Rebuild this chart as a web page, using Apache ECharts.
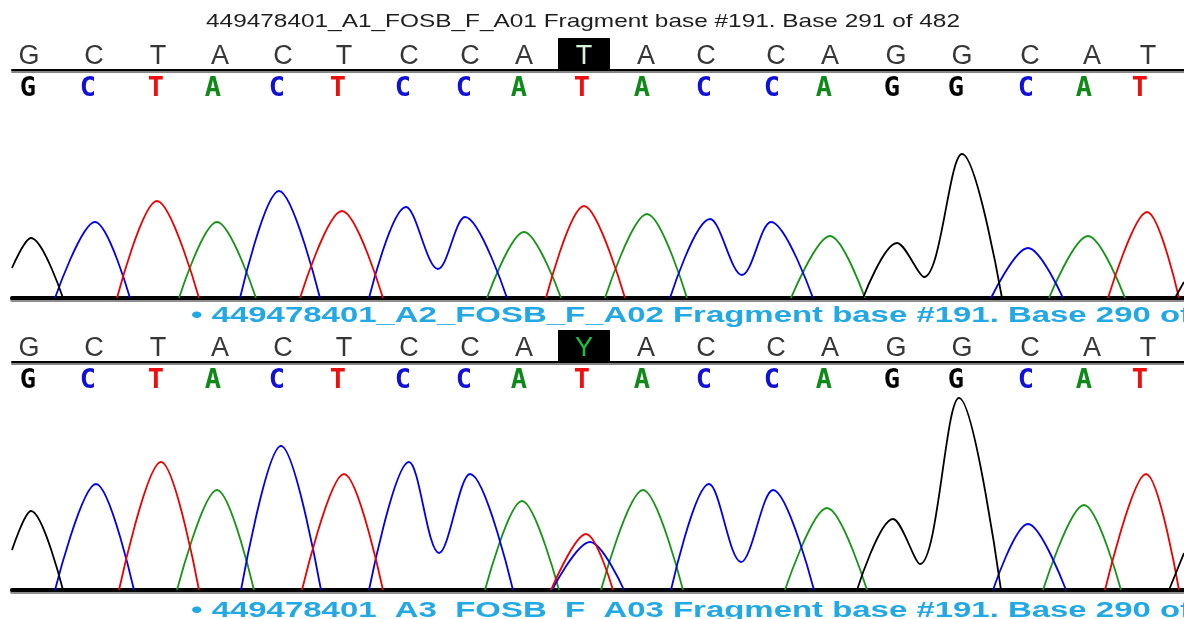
<!DOCTYPE html>
<html><head><meta charset="utf-8">
<script src="https://cdn.jsdelivr.net/npm/echarts@6/dist/echarts.min.js"></script>
<style>html,body{margin:0;padding:0;background:#fff}#c{width:1184px;height:619px}</style>
</head><body><div id="c"></div>
<script>
// ---------------- data ----------------
const titleA1 = '449478401_A1_FOSB_F_A01 Fragment base #191. Base 291 of 482';
const titleA2 = '\u2022 449478401_A2_FOSB_F_A02 Fragment base #191. Base 290 of';
const titleA3 = '\u2022 449478401_A3_FOSB_F_A03 Fragment base #191. Base 290 of';

const calledBases = ['G','C','T','A','C','T','C','C','A','T','A','C','C','A','G','G','C','A','T'];
const topBases1   = ['G','C','T','A','C','T','C','C','A','T','A','C','C','A','G','G','C','A','T'];
const topBases2   = ['G','C','T','A','C','T','C','C','A','Y','A','C','C','A','G','G','C','A','T'];
const topPos  = [29,94,158,220,283,344,409,470,524,584,646,706,776,830,896,962,1030,1092,1148];
const callPos = [28,88,156,213,277,338,403,464,519,582,642,704,772,824,892,956,1026,1084,1140];
const highlightIndex = 9;

// trace peaks: [scan position, signal]
const panel1G = [[[12,30],[31,60],[63,0]], [[863,0],[897,55],[924,21],[962,144],[1002,0]], [[1175,0],[1184,16]]];
const panel1C = [[[55,0],[95,76],[130,0]], [[240,0],[279,107],[320,0]], [[369,0],[406,91],[438,29],[465,81],[507,0]], [[670,0],[710,79],[742,23],[771,76],[813,0]], [[991,0],[1028,50],[1063,0]]];
const panel1T = [[[117,0],[157,97],[199,0]], [[300,0],[342,87],[383,0]], [[546,0],[584,92],[625,0]], [[1108,0],[1147,86],[1179,0]]];
const panel1A = [[[179,0],[217,76],[256,0]], [[487,0],[524,66],[561,0]], [[605,0],[647,84],[687,0]], [[791,0],[830,62],[865,0]], [[1049,0],[1088,62],[1125,0]]];

const panel2G = [[[12,40],[31,79],[63,0]], [[857,0],[893,71],[920,26],[959,192],[1001,0]], [[1169,0],[1184,37]]];
const panel2C = [[[55,0],[96,106],[134,0]], [[241,0],[281,144],[321,0]], [[369,0],[409,128],[439,37],[470,116],[513,0]], [[552,0],[590,48],[624,0]], [[671,0],[709,106],[741,28],[773,100],[814,0]], [[993,0],[1028,66],[1066,0]]];
const panel2T = [[[551,0],[586,56],[613,0]], [[119,0],[161,128],[199,0]], [[302,0],[344,116],[383,0]], [[1105,0],[1146,116],[1179,0]]];
const panel2A = [[[177,0],[217,100],[254,0]], [[485,0],[522,89],[559,0]], [[601,0],[643,100],[683,0]], [[785,0],[827,82],[867,0]], [[1043,0],[1084,85],[1121,0]]];

// ---------------- styles ----------------
const traceColors = {G:'#000000', C:'#0000ee', T:'#ee0000', A:'#169416'};
const callColors  = {G:'#000000', C:'#1010d8', T:'#ee1010', A:'#0f8a18'};
const XMIN = 12, XMAX = 1184;

function joinPeaks(peaks){
  const out = [];
  peaks.slice().sort((a,b)=>a[0][0]-b[0][0]).forEach((pk,i)=>{ if(i) out.push(null); pk.forEach(p=>out.push(p)); });
  return out;
}
function fitScale(text, font, width){
  const ctx = document.createElement('canvas').getContext('2d');
  ctx.font = font;
  return width / ctx.measureText(text).width;
}

const grids = [], xAxes = [], yAxes = [], series = [];
function addGrid(top, height, axisLineStyle){
  const idx = grids.length;
  grids.push({left:12, right:0, top:top, height:height, containLabel:false});
  xAxes.push({type:'value', gridIndex:idx, min:XMIN, max:XMAX,
    axisLine: axisLineStyle ? {show:true, onZero:false, lineStyle:axisLineStyle} : {show:false},
    axisTick:{show:false}, axisLabel:{show:false}, splitLine:{show:false}});
  yAxes.push({type:'value', gridIndex:idx, min:0, max: height, show:false, splitLine:{show:false}});
  return idx;
}
const lineStyle2 = {color:'#000', width:2, shadowColor:'rgba(120,120,120,0.9)', shadowOffsetY:2, shadowBlur:0};
const lineStyle4 = {color:'#000', width:4, shadowColor:'rgba(130,130,130,0.9)', shadowOffsetY:2, shadowBlur:0};

function addPanel(offset, topBases, peaks){
  const gTop  = addGrid(38+offset, 32, lineStyle2);
  const gCall = addGrid(74+offset, 28, null);
  const gTr   = addGrid(98+offset, 200, lineStyle4);
  // top row letters
  series.push({type:'scatter', xAxisIndex:gTop, yAxisIndex:gTop, symbolSize:1, silent:true,
    itemStyle:{color:'transparent', opacity:1},
    label:{show:true, position:'inside', fontFamily:'Liberation Sans', fontSize:27, color:'#363636',
      formatter:p=>p.data.base},
    data: topBases.map((b,i)=>({value:[topPos[i],13], base:b})).filter((d,i)=>i!==highlightIndex)});
  // highlighted base
  const hb = topBases[highlightIndex];
  series.push({type:'scatter', xAxisIndex:gTop, yAxisIndex:gTop, symbol:'rect', symbolSize:[52,32], silent:true, z:5,
    itemStyle:{color:'#000', opacity:1},
    label:{show:true, position:'inside', fontFamily:'Liberation Sans', fontSize:27, offset:[0,3],
      color: hb==='Y' ? '#18c040' : '#d6f5d6', formatter:p=>p.data.base},
    data:[{value:[topPos[highlightIndex],16], base:hb}]});
  // called bases
  series.push({type:'scatter', xAxisIndex:gCall, yAxisIndex:gCall, symbolSize:1, silent:true,
    itemStyle:{color:'transparent', opacity:1},
    label:{show:true, position:'inside', fontFamily:'DejaVu Sans Mono', fontWeight:'bold', fontSize:27,
      formatter:p=>p.data.base},
    data: calledBases.map((b,i)=>({value:[callPos[i],13], base:b, label:{color:callColors[b]}}))});
  // traces
  ['A','C','T','G'].forEach(ch=>{
    series.push({type:'line', xAxisIndex:gTr, yAxisIndex:gTr, name:ch, smooth:0.35, symbol:'none', silent:true,
      connectNulls:false, clip:true,
      lineStyle:{color:traceColors[ch], width:1.8}, data: joinPeaks(peaks[ch])});
  });
}
addPanel(0,   topBases1, {G:panel1G, C:panel1C, T:panel1T, A:panel1A});
addPanel(292, topBases2, {G:panel2G, C:panel2C, T:panel2T, A:panel2A});

const f1 = '19px "Liberation Sans"';
const f2 = 'bold 22px "Liberation Sans"';
const s1 = fitScale(titleA1, f1, 754);
const s2 = fitScale(titleA2, f2, 1000);

const option = {
  animation:false,
  backgroundColor:'#ffffff',
  grid:grids, xAxis:xAxes, yAxis:yAxes, series:series,
  graphic:[
    {type:'text', x:583, y:22, scaleX:s1, silent:true,
      style:{text:titleA1, font:f1, fill:'#1e1e1e', align:'center', verticalAlign:'middle'}},
    {type:'text', x:191, y:316, scaleX:s2, silent:true,
      style:{text:titleA2, font:f2, fill:'#22a8e4', align:'left', verticalAlign:'middle'}},
    {type:'text', x:191, y:611, scaleX:s2, silent:true,
      style:{text:titleA3, font:f2, fill:'#22a8e4', align:'left', verticalAlign:'middle'}}
  ]
};
const chart = echarts.init(document.getElementById('c'), null, {renderer:'canvas'});
chart.setOption(option);
</script>
</body></html>
